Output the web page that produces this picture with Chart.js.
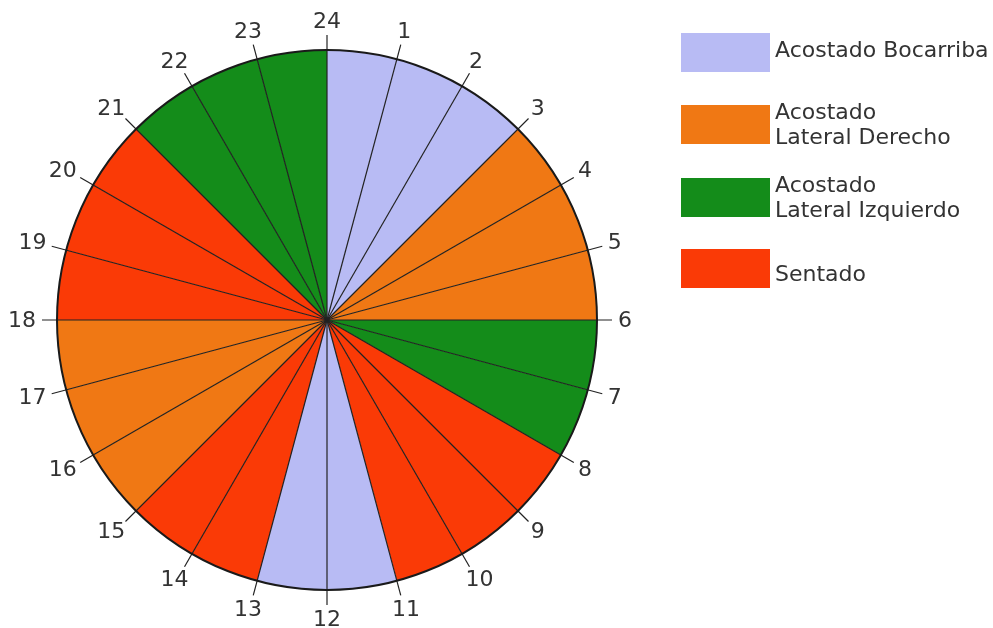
<!DOCTYPE html>
<html>
<head>
<meta charset="utf-8">
<script src="https://cdn.jsdelivr.net/npm/chart.js@4.4.1/dist/chart.umd.min.js"></script>
<style>
html, body { margin: 0; padding: 0; background: #fff; }
#wrap { position: relative; width: 993px; height: 628px; overflow: hidden; }
#legend .box { position: absolute; left: 681px; width: 89px; height: 39px; }
#legend .txt { position: absolute; left: 775px; font-family: "DejaVu Sans", Verdana, sans-serif; font-size: 22px; line-height: 25px; color: #333; white-space: nowrap; }
</style>
</head>
<body>
<div id="wrap">
  <canvas id="clock" width="993" height="628"></canvas>
  <div id="legend"></div>
</div>
<script>
// hour labels, one per slice end (slice 0 runs from 24 to 1)
let hourLabels = ['1', '2', '3', '4', '5', '6', '7', '8', '9', '10', '11', '12',
                  '13', '14', '15', '16', '17', '18', '19', '20', '21', '22', '23', '24'];
// every hour counts the same
let hourValues = [1, 1, 1, 1, 1, 1, 1, 1, 1, 1, 1, 1, 1, 1, 1, 1, 1, 1, 1, 1, 1, 1, 1, 1];
// posture index for each hour slot (0 = bocarriba, 1 = derecho, 2 = izquierdo, 3 = sentado)
let hourPosture = [0, 0, 0, 1, 1, 1, 2, 2, 3, 3, 3, 0, 0, 3, 3, 1, 1, 1, 3, 3, 3, 2, 2, 2];

let postureNames = ['Acostado Bocarriba', 'Acostado\nLateral Derecho', 'Acostado\nLateral Izquierdo', 'Sentado'];
let postureColors = ['#b8bbf4', '#f07814', '#148c1a', '#fa3a06'];

// legend placement (box tops, text tops)
let legendBoxTop = [33, 105, 178, 249];
let legendTextTop = [37, 99, 172, 261];

let legend = document.querySelector('#legend');
postureNames.forEach(function (name, i) {
    let box = document.createElement('div');
    box.className = 'box';
    box.style.top = legendBoxTop[i] + 'px';
    box.style.background = postureColors[i];
    legend.appendChild(box);
    let txt = document.createElement('div');
    txt.className = 'txt';
    txt.style.top = legendTextTop[i] + 'px';
    txt.innerHTML = name.split('\n').join('<br>');
    legend.appendChild(txt);
});

// radial hour lines, rim and hour numbers
const clockPlugin = {
    id: 'clockFace',
    afterDatasetsDraw(chart) {
        let ctx = chart.ctx;
        let arcs = chart.getDatasetMeta(0).data;
        if (!arcs.length) return;
        let cx = arcs[0].x, cy = arcs[0].y, r = arcs[0].outerRadius;
        ctx.save();
        ctx.strokeStyle = '#222';
        ctx.lineWidth = 1.2;
        arcs.forEach(function (arc) {
            let a = arc.endAngle;
            ctx.beginPath();
            ctx.moveTo(cx, cy);
            ctx.lineTo(cx + Math.cos(a) * (r + 15), cy + Math.sin(a) * (r + 15));
            ctx.stroke();
        });
        ctx.beginPath();
        ctx.lineWidth = 2;
        ctx.strokeStyle = '#1a1a1a';
        ctx.arc(cx, cy, r, 0, Math.PI * 2);
        ctx.stroke();

        ctx.fillStyle = '#333';
        ctx.font = '22px "DejaVu Sans", Verdana, sans-serif';
        ctx.textAlign = 'center';
        ctx.textBaseline = 'middle';
        let h = 16;
        arcs.forEach(function (arc, i) {
            let a = arc.endAngle;
            let dx = Math.cos(a), dy = Math.sin(a);
            let w = ctx.measureText(hourLabels[i]).width;
            let x = cx + dx * (r + 21) + dx * w / 2;
            let y = cy + dy * (r + 21) + dy * h / 2;
            ctx.fillText(hourLabels[i], x, y + 1);
        });
        ctx.restore();
    }
};

let clock = document.querySelector('#clock').getContext('2d');
let clockChart = new Chart(clock, {
    type: 'pie',
    data: {
        labels: hourLabels,
        datasets: [{
            data: hourValues,
            backgroundColor: hourPosture.map(p => postureColors[p]),
            borderWidth: 0,
            hoverOffset: 0,
            radius: 270
        }]
    },
    options: {
        responsive: false,
        animation: false,
        events: [],
        layout: {
            padding: { left: 57, right: 396, top: 50, bottom: 38 }
        },
        plugins: {
            legend: { display: false },
            tooltip: { enabled: false }
        }
    },
    plugins: [clockPlugin]
});
</script>
</body>
</html>
